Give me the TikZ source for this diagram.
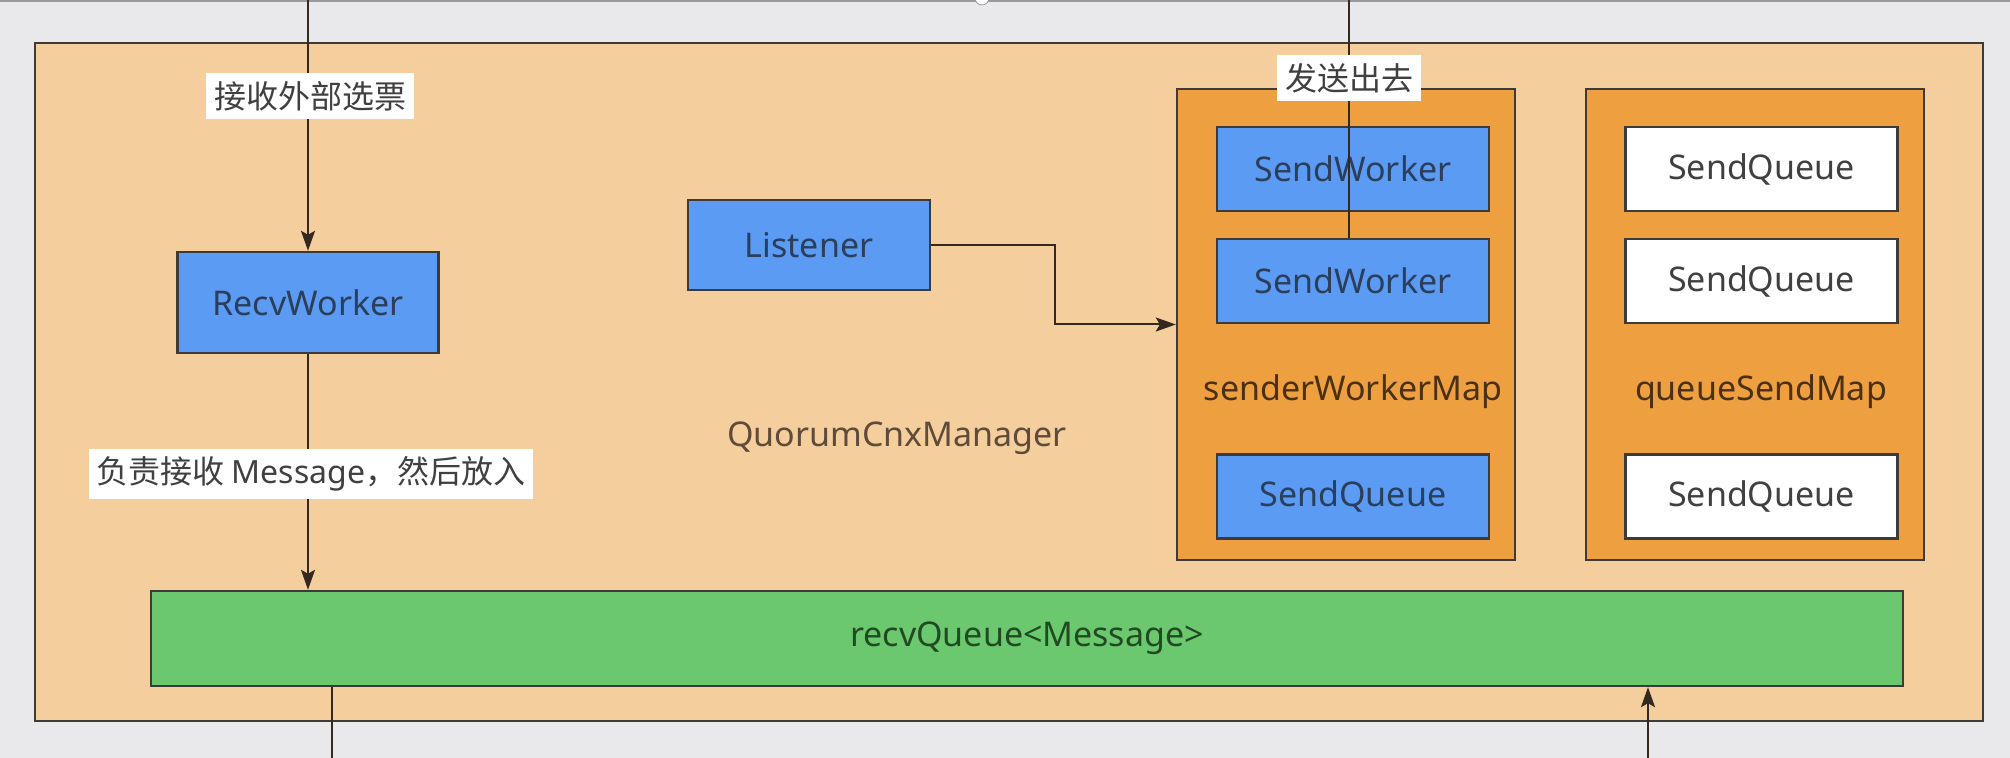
\documentclass[tikz,border=0pt]{standalone}
\usepackage{fontspec}
\setmainfont{Noto Sans}
\newfontfamily\cjk{Noto Sans CJK SC}
\usetikzlibrary{arrows.meta}

\definecolor{pagegray}{HTML}{E9E9EB}
\definecolor{mgrfill}{HTML}{F5CE9E}
\definecolor{mapfill}{HTML}{EE9F40}
\definecolor{workerblue}{HTML}{5B9BF3}
\definecolor{queuegreen}{HTML}{6CC86F}
\definecolor{edgegray}{HTML}{3D3A38}
\definecolor{linebrown}{HTML}{35291F}
\definecolor{workertext}{HTML}{2B3E5A}
\definecolor{maptextcol}{HTML}{4B3013}
\definecolor{mgrtext}{HTML}{5E4B39}
\definecolor{queuetext}{HTML}{204A22}

\tikzset{
    box/.style={draw=edgegray, line width=1.2pt, inner sep=0pt, font=\fontsize{17}{20}\selectfont},
    worker/.style={box, fill=workerblue, text=workertext},
    plainbox/.style={box, fill=white, text=black!75},
    cell/.style={minimum width=136pt, minimum height=42pt},
    map/.style={box, fill=mapfill, minimum width=169pt, minimum height=235.5pt},
    maptext/.style={font=\fontsize{17}{20}\selectfont, text=maptextcol},
    queue/.style={box, fill=queuegreen, text=queuetext, minimum width=876pt, minimum height=47.5pt},
    note/.style={fill=white, inner sep=4pt, text=black!75, font=\cjk\fontsize{16}{18}\selectfont},
    wire/.style={draw=linebrown, line width=1pt},
    flow/.style={wire, -{Stealth[length=10pt, width=7pt, inset=2pt]}}
}

\begin{document}
\begin{tikzpicture}[x=0.5pt, y=-0.5pt]
    % Page background
    \fill[pagegray] (0,0) rectangle (2010,758);
    \useasboundingbox (0,0) rectangle (2010,758);
    \draw[black!40, line width=1pt] (0,1) -- (2010,1);
    \draw[black!40, fill=white] (982,-2) circle (3.5pt);

    % QuorumCnxManager frame
    \node[box, fill=mgrfill, minimum width=974pt, minimum height=339pt] (mgr) at (1009,382) {};
    \node[maptext, text=mgrtext] (mgrname) at (897,438) {QuorumCnxManager};

    % Workers
    \node[worker, minimum width=130.5pt, minimum height=50.5pt] (recv) at (308,302.5) {RecvWorker};
    \node[worker, minimum width=121pt, minimum height=45pt] (lis) at (809,245) {Listener};

    % senderWorkerMap and queueSendMap
    \node[map] (swmap) at (1346,324.5) {};
    \node[map] (qsmap) at (1755,324.5) {};
    \node[maptext] (swname) at (1353,392) {senderWorkerMap};
    \node[maptext] (qsname) at (1761,392) {queueSendMap};

    \foreach \y/\n in {169/1, 281/2}
    {
        \node[worker, cell] (sw\n) at (1353,\y) {SendWorker};
    }
    \node[worker, cell] (swq) at (1353,496.5) {SendQueue};

    \foreach \y/\n in {169/1, 281/2, 496.5/3}
    {
        \node[plainbox, cell] (qs\n) at (1761.5,\y) {SendQueue};
    }

    % recvQueue
    \node[queue] (rq) at (1027,638.5) {recvQueue<Message>};

    % Free ends outside the frame
    \coordinate (in1) at (308,0);
    \coordinate (out2) at (1349,0);
    \coordinate (out1) at (332,758);
    \coordinate (in2) at (1648,758);

    % Connectors
    \draw[flow] (in1) -- (recv.north);
    \draw[flow] (recv.south) -- (recv.south |- rq.north);
    \draw[wire] (rq.south -| out1) -- (out1);
    \draw[flow] (in2) -- (rq.south -| in2);
    \draw[flow] (lis.east) -- ++(124,0) |- (swmap.west);
    \draw[wire] (sw2.north -| out2) -- (out2);

    % Labels on the connectors
    \node[note] (recvnote) at (310,96) {接收外部选票};
    \node[note] (putnote) at (311,474) {负责接收 {\normalfont Message}，然后放入};
    \node[note] (sendnote) at (1349,78) {发送出去};
\end{tikzpicture}
\end{document}
